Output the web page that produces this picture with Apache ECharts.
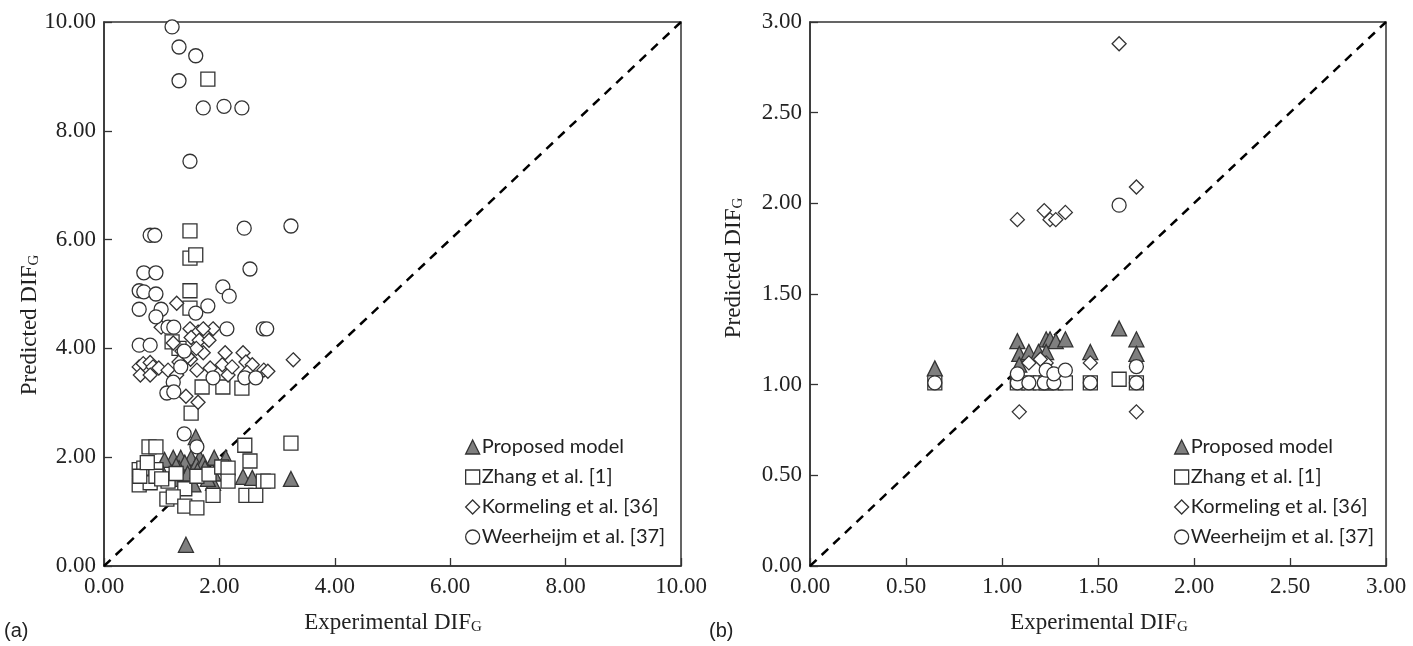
<!DOCTYPE html>
<html>
<head>
<meta charset="utf-8">
<script src="https://cdn.jsdelivr.net/npm/echarts@6/dist/echarts.min.js"></script>
<style>
html,body{margin:0;padding:0;background:#fff;}
#chart{width:1413px;height:646px;}
</style>
</head>
<body>
<div id="chart"></div>
<script>
// ---------- Data ----------
const seriesNames = ['Proposed model', 'Zhang et al. [1]', 'Kormeling et al. [36]', 'Weerheijm et al. [37]'];
const ticksA = [0, 2, 4, 6, 8, 10];
const ticksB = [0, 0.5, 1, 1.5, 2, 2.5, 3];

// Panel (a)
const proposedA = [
  [1.59,2.37],[1.20,1.99],[1.33,1.99],[1.51,1.99],[1.66,1.99],[1.91,1.99],[2.11,1.99],[1.05,1.95],
  [1.40,1.90],[1.60,1.86],[1.72,1.90],[1.30,1.80],[1.75,1.80],[1.45,1.70],[1.90,1.70],[2.41,1.64],
  [2.57,1.62],[3.24,1.60],[1.89,1.53],[1.20,1.60],[1.55,1.50],[1.42,0.39],[1.00,1.75],[1.80,1.60],
  [1.25,1.85],[1.62,1.75]
];
const zhangA = [
  [1.80,8.95],[1.49,6.16],[1.49,5.66],[1.59,5.72],[1.49,5.06],[1.49,4.74],[1.18,4.12],[1.70,3.29],
  [2.06,3.29],[2.39,3.27],[1.51,2.81],[1.30,4.00],
  [2.44,2.22],[3.24,2.26],[0.78,2.19],[0.90,2.19],[2.53,1.93],
  [0.61,1.77],[0.69,1.80],[0.90,1.77],[0.61,1.49],[0.80,1.53],[0.90,1.65],[1.11,1.56],[1.40,1.42],
  [1.61,1.65],[1.82,1.69],[2.04,1.82],[2.15,1.80],[2.15,1.56],[1.89,1.30],[2.46,1.30],[2.63,1.30],
  [2.76,1.56],[2.84,1.56],[1.09,1.23],[1.20,1.27],[1.40,1.10],[1.61,1.07],[0.62,1.65],[0.75,1.90],
  [1.00,1.60],[1.25,1.70]
];
const kormelingA = [
  [1.26,4.83],[0.99,4.39],[1.49,4.36],[1.63,4.30],[1.89,4.36],[1.72,4.36],[1.51,4.20],[1.65,4.15],
  [1.82,4.15],[1.20,4.10],[1.35,3.95],[1.72,3.92],[2.10,3.92],[2.41,3.92],[3.28,3.79],[0.61,3.66],
  [0.68,3.72],[0.80,3.74],[0.85,3.66],[0.95,3.64],[0.63,3.51],[0.80,3.51],[1.11,3.60],[1.26,3.51],
  [1.61,3.60],[1.84,3.64],[2.05,3.70],[2.15,3.51],[2.22,3.66],[2.46,3.75],[2.57,3.70],[2.48,3.56],
  [2.77,3.60],[2.84,3.58],[1.42,3.12],[1.63,3.01],[1.50,3.80],[1.60,4.00],[1.45,3.85],[1.30,3.75]
];
const weerheijmA = [
  [1.18,9.91],[1.30,9.54],[1.59,9.38],[1.30,8.92],[1.72,8.42],[2.08,8.45],[2.39,8.42],[1.49,7.44],
  [0.80,6.08],[0.88,6.08],[2.43,6.21],[3.24,6.25],
  [0.69,5.39],[0.90,5.39],[2.53,5.46],
  [0.61,5.06],[0.69,5.04],[0.90,5.00],[2.06,5.13],[2.17,4.96],
  [0.61,4.72],[0.99,4.72],[0.90,4.58],[1.59,4.65],[1.80,4.78],
  [1.11,4.39],[1.21,4.39],[2.13,4.36],[2.76,4.36],[2.82,4.36],
  [0.61,4.06],[0.80,4.06],[1.39,3.95],[1.33,3.66],
  [1.89,3.46],[2.44,3.46],[2.63,3.46],[1.20,3.38],[1.09,3.18],[1.21,3.20],
  [1.39,2.43],[1.61,2.19]
];

// Panel (b)
const proposedB = [
  [0.65,1.09],[1.08,1.24],[1.23,1.25],[1.25,1.25],[1.28,1.24],[1.33,1.25],[1.61,1.31],[1.70,1.25],
  [1.09,1.17],[1.14,1.18],[1.19,1.18],[1.23,1.18],[1.46,1.18],[1.70,1.17],[1.09,1.11]
];
const zhangB = [
  [0.65,1.01],[1.08,1.01],[1.14,1.01],[1.20,1.01],[1.23,1.01],[1.28,1.01],[1.33,1.01],[1.46,1.01],
  [1.61,1.03],[1.70,1.01]
];
const kormelingB = [
  [1.08,1.91],[1.22,1.96],[1.25,1.91],[1.28,1.91],[1.33,1.95],[1.70,2.09],[1.61,2.88],[1.14,1.12],
  [1.23,1.12],[1.46,1.12],[1.09,0.85],[1.70,0.85],[1.20,1.14]
];
const weerheijmB = [
  [0.65,1.01],[1.08,1.01],[1.14,1.01],[1.22,1.01],[1.27,1.01],[1.46,1.01],[1.70,1.01],[1.08,1.06],
  [1.23,1.08],[1.27,1.06],[1.33,1.08],[1.70,1.10],[1.61,1.99]
];

const diagA = [[0,0],[10,10]];
const diagB = [[0,0],[3,3]];

// ---------- Styles ----------
const serif = '"Liberation Serif", "Times New Roman", serif';
const edge = '#333';
const symbols = {
  'Proposed model': {symbol: 'triangle', size: 15, color: '#7f7f7f', icon: 'triangle'},
  'Zhang et al. [1]': {symbol: 'rect', size: 14, color: '#ffffff', icon: 'rect'},
  'Kormeling et al. [36]': {symbol: 'diamond', size: 14, color: '#ffffff', icon: 'diamond'},
  'Weerheijm et al. [37]': {symbol: 'circle', size: 14, color: '#ffffff', icon: 'circle'}
};

function scatter(name, data, idx) {
  const s = symbols[name];
  return {
    type: 'scatter', name: name, data: data,
    xAxisIndex: idx, yAxisIndex: idx,
    symbol: s.symbol, symbolSize: s.size,
    itemStyle: {color: s.color, borderColor: edge, borderWidth: 1.3, opacity: 1},
    emphasis: {disabled: true},
    z: 3
  };
}
function diag(data, idx) {
  return {
    type: 'line', data: data, xAxisIndex: idx, yAxisIndex: idx,
    symbol: 'none', silent: true, z: 2,
    lineStyle: {color: '#000', width: 2.5, type: [9, 7]}
  };
}
function xAxis(idx, max, interval) {
  return {
    type: 'value', gridIndex: idx, min: 0, max: max, interval: interval,
    axisLine: {show: true, onZero: false, lineStyle: {color: edge, width: 1.5}},
    axisTick: {show: true, inside: true, length: 8, lineStyle: {color: edge, width: 1.3}},
    axisLabel: {fontFamily: serif, fontSize: 23, color: '#222', margin: 9, formatter: v => v.toFixed(2)},
    splitLine: {show: false}
  };
}
function yAxis(idx, max, interval) {
  return {
    type: 'value', gridIndex: idx, min: 0, max: max, interval: interval,
    axisLine: {show: true, onZero: false, lineStyle: {color: edge, width: 1.5}},
    axisTick: {show: true, inside: true, length: 8, lineStyle: {color: edge, width: 1.3}},
    axisLabel: {fontFamily: serif, fontSize: 23, color: '#222', margin: 8, formatter: v => v.toFixed(2)},
    splitLine: {show: false}
  };
}
function legend(left) {
  return {
    orient: 'vertical', left: left, top: 432, itemGap: 10,
    itemWidth: 14, itemHeight: 14, selectedMode: false,
    textStyle: {fontFamily: 'Lato, "Liberation Sans", sans-serif', fontSize: 20, lineHeight: 18, color: '#222', padding: [0, 0, 0, -3]},
    data: seriesNames.map(n => ({
      name: n, icon: symbols[n].icon,
      itemStyle: {color: symbols[n].color, borderColor: edge, borderWidth: 1.3}
    }))
  };
}
const nameRich = {
  a: {fontFamily: serif, fontSize: 23, fill: '#222', color: '#222'},
  b: {fontFamily: serif, fontSize: 15, fill: '#222', color: '#222', verticalAlign: 'bottom', padding: [9, 0, 0, 0]}
};
function axisTitle(text, x, y, rot) {
  return {
    type: 'text', x: x, y: y, rotation: rot,
    style: {text: '{a|' + text + '}{b|G}', rich: nameRich, align: 'center', verticalAlign: 'middle'}
  };
}

const chart = echarts.init(document.getElementById('chart'), null, {renderer: 'canvas'});
chart.setOption({
  backgroundColor: '#fff',
  animation: false,
  grid: [
    {left: 104, top: 22, width: 577, height: 544, show: true, borderColor: edge, borderWidth: 1.5, backgroundColor: 'transparent'},
    {left: 810, top: 22, width: 576, height: 544, show: true, borderColor: edge, borderWidth: 1.5, backgroundColor: 'transparent'}
  ],
  xAxis: [xAxis(0, ticksA[ticksA.length - 1], ticksA[1] - ticksA[0]), xAxis(1, ticksB[ticksB.length - 1], ticksB[1] - ticksB[0])],
  yAxis: [yAxis(0, ticksA[ticksA.length - 1], ticksA[1] - ticksA[0]), yAxis(1, ticksB[ticksB.length - 1], ticksB[1] - ticksB[0])],
  legend: [legend(460), legend(1169)],
  graphic: [
    {type: 'text', left: 4, top: 621, style: {text: '(a)', font: '20px "Liberation Sans", Arial, sans-serif', fill: '#222'}},
    {type: 'text', left: 709, top: 621, style: {text: '(b)', font: '20px "Liberation Sans", Arial, sans-serif', fill: '#222'}},
    axisTitle('Experimental DIF', 393, 623, 0),
    axisTitle('Experimental DIF', 1099, 623, 0),
    axisTitle('Predicted DIF', 30, 325, Math.PI / 2),
    axisTitle('Predicted DIF', 734, 268, Math.PI / 2)
  ],
  series: [
    diag(diagA, 0),
    scatter(seriesNames[0], proposedA, 0),
    scatter(seriesNames[1], zhangA, 0),
    scatter(seriesNames[2], kormelingA, 0),
    scatter(seriesNames[3], weerheijmA, 0),
    diag(diagB, 1),
    scatter(seriesNames[0], proposedB, 1),
    scatter(seriesNames[1], zhangB, 1),
    scatter(seriesNames[2], kormelingB, 1),
    scatter(seriesNames[3], weerheijmB, 1)
  ]
});
</script>
</body>
</html>
